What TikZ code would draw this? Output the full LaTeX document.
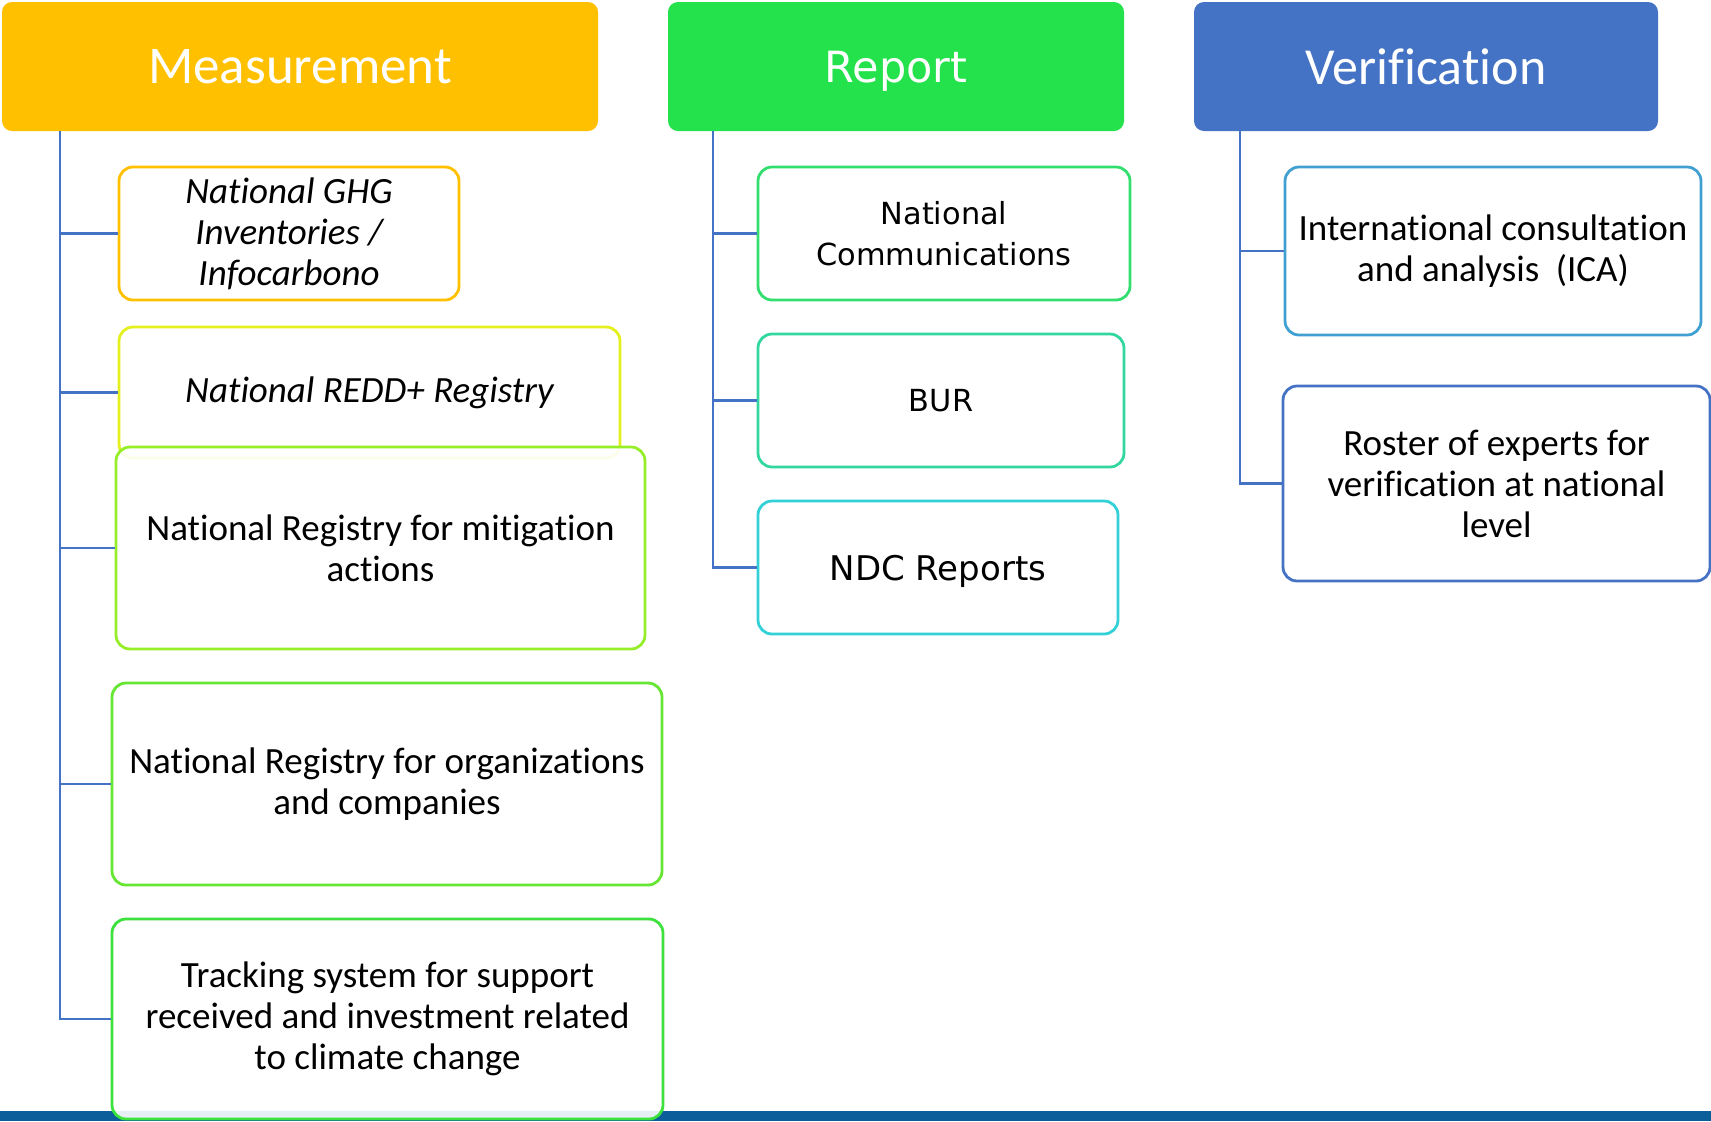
\documentclass[tikz,border=0pt]{standalone}
\usepackage{fontspec}
\setmainfont{Carlito}[Ligatures=NoCommon]
\newfontfamily\verd{DejaVu Sans}
\definecolor{mcol}{RGB}{255,192,0}
\definecolor{rcol}{RGB}{36,226,76}
\definecolor{vcol}{RGB}{68,114,196}
\definecolor{linkblue}{RGB}{68,114,196}
\definecolor{cghg}{RGB}{255,192,0}
\definecolor{credd}{RGB}{228,240,30}
\definecolor{cmit}{RGB}{150,238,40}
\definecolor{corg}{RGB}{100,230,50}
\definecolor{ctrack}{RGB}{60,225,60}
\definecolor{cnc}{RGB}{50,222,110}
\definecolor{cbur}{RGB}{50,215,160}
\definecolor{cndc}{RGB}{50,208,215}
\definecolor{cica}{RGB}{65,160,210}
\definecolor{croster}{RGB}{68,114,196}
\definecolor{barcol}{RGB}{11,94,153}
\begin{document}
\begin{tikzpicture}[x=0.5pt,y=-0.5pt,
  head/.style={rounded corners=5pt, inner sep=0pt, text=white, text depth=0pt, minimum height=64.5pt},
  box/.style={draw, line width=1.4pt, rounded corners=7pt, fill=white, fill opacity=0.9, text opacity=1,
    align=center, inner sep=0pt, font=\fontsize{18.5}{20.5}\selectfont},
  rbox/.style={box, font=\verd\fontsize{15.2}{20.5}\selectfont},
  conn/.style={draw=linkblue, line width=1.35pt}]
\useasboundingbox (0,0) rectangle (1711,1121);
% bottom bar
\fill[barcol] (0,1111) rectangle (1711,1121);
% headers
\node[head, fill=mcol, minimum width=298pt, font=\fontsize{26.5}{28}\selectfont] (mhead) at (300,66.5) {Measurement};
\node[head, fill=rcol, minimum width=228pt, font=\verd\fontsize{21.5}{24}\selectfont] (rhead) at (896,66.5) {Report};
\node[head, fill=vcol, minimum width=232pt, font=\fontsize{26}{28}\selectfont] (vhead) at (1426,66.5) {Verification};
% connector origins
\coordinate (mtop) at (60,131);
\coordinate (rtop) at (713,131);
\coordinate (vtop) at (1240,131);
% measurement boxes
\node[box, draw=cghg, minimum width=170pt, minimum height=66.5pt, font=\itshape\fontsize{18.5}{20.5}\selectfont] (ghg) at (289,233.5) {National GHG\\Inventories /\\Infocarbono};
\node[box, draw=credd, minimum width=250.5pt, minimum height=65.5pt, font=\itshape\fontsize{18.5}{20.5}\selectfont] (redd) at (369.5,392.5) {National REDD+ Registry};
\node[box, draw=cmit, minimum width=264.5pt, minimum height=101pt] (mit) at (380.5,548) {National Registry for mitigation\\actions};
\node[box, draw=corg, minimum width=275pt, minimum height=101pt] (org) at (387,784) {National Registry for organizations\\and companies};
\node[box, draw=ctrack, minimum width=275.5pt, minimum height=100pt] (track) at (387.5,1019) {Tracking system for support\\received and investment related\\to climate change};
% report boxes
\node[rbox, draw=cnc, minimum width=186pt, minimum height=66.5pt] (nc) at (944,233.5) {National\\Communications};
\node[rbox, draw=cbur, minimum width=183pt, minimum height=66.5pt] (bur) at (941,400.5) {BUR};
\node[rbox, draw=cndc, minimum width=180pt, minimum height=66.5pt, font=\verd\fontsize{17}{20.5}\selectfont, text depth=0pt] (ndc) at (938,567.5) {NDC Reports};
% verification boxes
\node[box, draw=cica, minimum width=208pt, minimum height=84pt] (ica) at (1493,251) {International consultation\\and analysis\ \ (ICA)};
\node[box, draw=croster, minimum width=213.5pt, minimum height=97.5pt] (roster) at (1496.5,483.5) {Roster of experts for\\verification at national\\level};
% connectors
\draw[conn] (mtop) |- (ghg.west);
\draw[conn] (mtop) |- (redd.west);
\draw[conn] (mtop) |- (mit.west);
\draw[conn] (mtop) |- (org.west);
\draw[conn] (mtop) |- (track.west);
\draw[conn] (rtop) |- (nc.west);
\draw[conn] (rtop) |- (bur.west);
\draw[conn] (rtop) |- (ndc.west);
\draw[conn] (vtop) |- (ica.west);
\draw[conn] (vtop) |- (roster.west);
\end{tikzpicture}
\end{document}
